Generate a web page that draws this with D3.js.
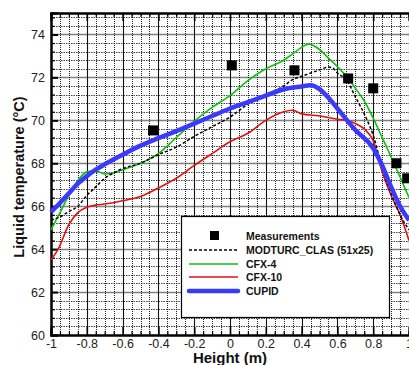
<!DOCTYPE html>
<html><head><meta charset="utf-8">
<script src="https://cdn.jsdelivr.net/npm/d3@7"></script>
<style>body{margin:0;background:#fff;}svg{display:block;}</style>
</head><body>
<svg id="c" width="409" height="365"></svg>
<script>
const measH = [-0.43, 0.01, 0.36, 0.66, 0.80, 0.93, 0.99];
const measT = [69.53, 72.56, 72.33, 71.95, 71.49, 68.0, 67.3];

const modH = [-1,-0.95,-0.9,-0.85,-0.8,-0.75,-0.7,-0.65,-0.6,-0.5,-0.4,-0.3,-0.2,-0.1,0,0.1,0.2,0.3,0.35,0.4,0.45,0.5,0.55,0.58,0.6,0.65,0.7,0.75,0.8,0.85,0.9,0.95,1.0];
const modT = [65.35,65.5,65.75,66.0,66.5,66.9,67.3,67.55,67.75,68.0,68.4,68.75,69.25,69.7,70.15,70.75,71.2,71.6,71.9,72.05,72.2,72.35,72.48,72.4,72.2,71.9,71.1,70.3,69.3,67.8,66.6,65.6,64.9];

const cfx4H = [-1,-0.95,-0.9,-0.85,-0.8,-0.75,-0.7,-0.65,-0.6,-0.5,-0.4,-0.3,-0.2,-0.1,0,0.1,0.2,0.3,0.35,0.4,0.44,0.5,0.55,0.6,0.65,0.7,0.75,0.8,0.85,0.9,0.95,1.0];
const cfx4T = [64.9,65.7,66.5,67.2,67.6,67.65,67.5,67.55,67.7,68.0,68.45,69.2,69.95,70.6,71.15,71.85,72.4,72.8,73.1,73.4,73.55,73.3,72.9,72.5,72.05,71.5,70.9,70.1,69.2,68.3,67.36,66.4];

const cfx10H = [-1,-0.96,-0.9,-0.85,-0.8,-0.75,-0.7,-0.6,-0.5,-0.4,-0.3,-0.2,-0.1,0,0.1,0.2,0.3,0.35,0.4,0.5,0.6,0.65,0.7,0.75,0.8,0.85,0.9,0.95,1.0];
const cfx10T = [63.5,64.0,65.15,65.7,65.95,66.05,66.1,66.25,66.45,66.85,67.3,67.9,68.45,69.0,69.4,70.0,70.4,70.47,70.3,70.2,70.05,70.0,69.85,69.6,69.05,67.6,66.5,65.6,64.4];

const cupidH = [-1,-0.95,-0.9,-0.85,-0.8,-0.75,-0.7,-0.6,-0.5,-0.4,-0.3,-0.2,-0.1,0,0.1,0.2,0.3,0.4,0.45,0.5,0.55,0.6,0.7,0.8,0.85,0.9,0.95,1.0];
const cupidT = [65.73,66.15,66.6,67.05,67.4,67.7,67.95,68.4,68.82,69.17,69.5,69.85,70.2,70.55,70.85,71.15,71.45,71.58,71.63,71.45,71.05,70.55,69.55,68.7,67.9,66.9,66.0,65.35];

const xTickVals = [-1,-0.8,-0.6,-0.4,-0.2,0,0.2,0.4,0.6,0.8,1];
const xTickLabels = ["-1","-0.8","-0.6","-0.4","-0.2","0","0.2","0.4","0.6","0.8","1"];
const yTickVals = [60,62,64,66,68,70,72,74];

const legendNames = ["Measurements","MODTURC_CLAS (51x25)","CFX-4","CFX-10","CUPID"];

const L = 51, R = 409, T = 13, B = 335;
const svg = d3.select("#c");
const x = d3.scaleLinear().domain([-1,1]).range([L,R]);
const y = d3.scaleLinear().domain([60,75]).range([B,T]);
const font = "'Liberation Sans', Arial, sans-serif";

// grid
const g = svg.append("g");
const minorX = d3.range(-1, 1.0001, 0.05).map(v=>+v.toFixed(2)).filter(v=>Math.abs(Math.round(v*5)-v*5)>1e-6);
const majorX = d3.range(-0.8, 1.0001, 0.2).map(v=>+v.toFixed(2));
const minorY = d3.range(60.4, 75.0001, 0.4).map(v=>+v.toFixed(1)).filter(v=>Math.abs(v/2-Math.round(v/2))>1e-6);
const majorY = [62,64,66,68,70,72,74];

g.selectAll(".hm").data(minorY).join("line")
  .attr("x1",L).attr("x2",R).attr("y1",d=>Math.round(y(d))+0.5).attr("y2",d=>Math.round(y(d))+0.5)
  .attr("stroke","#444").attr("stroke-width",1).attr("stroke-dasharray","1.5,1");
g.selectAll(".hM").data(majorY).join("line")
  .attr("x1",L).attr("x2",R).attr("y1",d=>Math.round(y(d))+0.5).attr("y2",d=>Math.round(y(d))+0.5)
  .attr("stroke","#808080").attr("stroke-width",1.6);
g.selectAll(".vm").data(minorX).join("line")
  .attr("y1",T).attr("y2",B).attr("x1",d=>Math.round(x(d))+0.5).attr("x2",d=>Math.round(x(d))+0.5)
  .attr("stroke","#222").attr("stroke-width",1).attr("stroke-dasharray","1,1");
g.selectAll(".vM").data(majorX).join("line")
  .attr("y1",T).attr("y2",B).attr("x1",d=>Math.round(x(d))+0.5).attr("x2",d=>Math.round(x(d))+0.5)
  .attr("stroke","#111").attr("stroke-width",1.1);

// axes with inward ticks
const axB = d3.axisBottom(x).tickValues(xTickVals).tickSize(-8).tickFormat((d,i)=>xTickLabels[i]).tickPadding(3);
const axBm = d3.axisBottom(x).tickValues(minorX).tickSize(-4).tickFormat("");
const axT = d3.axisTop(x).tickValues(xTickVals).tickSize(-8).tickFormat("");
const axTm = d3.axisTop(x).tickValues(minorX).tickSize(-4).tickFormat("");
const axL = d3.axisLeft(y).tickValues(yTickVals).tickSize(-7).tickPadding(10);
const axLm = d3.axisLeft(y).tickValues(minorY).tickSize(-4).tickFormat("");

function styleAxis(sel, sw){
  sel.select(".domain").attr("stroke","#000").attr("stroke-width",2);
  sel.selectAll(".tick line").attr("stroke","#000").attr("stroke-width",sw);
  sel.selectAll("text").attr("font-family",font).attr("font-size",12.5).attr("fill","#222");
}
styleAxis(svg.append("g").attr("transform",`translate(0,${B})`).call(axBm),1.2);
const xl = svg.append("g").attr("transform",`translate(0,${B})`).call(axB);
styleAxis(xl,1.6);
xl.selectAll(".tick text").attr("y",4.5);
styleAxis(svg.append("g").attr("transform",`translate(0,${T})`).call(axTm),1.2);
styleAxis(svg.append("g").attr("transform",`translate(0,${T})`).call(axT),1.6);
styleAxis(svg.append("g").attr("transform",`translate(${L},0)`).call(axLm),1.2);
const yl = svg.append("g").attr("transform",`translate(${L},0)`).call(axL);
styleAxis(yl,2);
yl.selectAll(".tick text").attr("x",-6);

// curves
const line = d3.line().x(d=>x(d[0])).y(d=>y(d[1])).curve(d3.curveMonotoneX);
const zip = (a,b)=>a.map((v,i)=>[v,b[i]]);
const plot = svg.append("g");
plot.append("path").attr("d",line(zip(cfx10H,cfx10T))).attr("fill","none").attr("stroke","#e01010").attr("stroke-width",1.6);
plot.append("path").attr("d",line(zip(cfx4H,cfx4T))).attr("fill","none").attr("stroke","#10c010").attr("stroke-width",1.6);
plot.append("path").attr("d",line(zip(modH,modT))).attr("fill","none").attr("stroke","#000").attr("stroke-width",1.5).attr("stroke-dasharray","3,2");
plot.append("path").attr("d",line(zip(cupidH,cupidT))).attr("fill","none").attr("stroke","#3a3aff").attr("stroke-width",4.5).attr("stroke-linejoin","round");

plot.selectAll(".m").data(zip(measH,measT)).join("rect")
  .attr("x",d=>x(d[0])-5).attr("y",d=>y(d[1])-5).attr("width",10).attr("height",10).attr("fill","#000");

// legend
const lg = svg.append("g");
lg.append("rect").attr("x",181.5).attr("y",216.5).attr("width",208).attr("height",101).attr("fill","#fff").attr("stroke","#000").attr("stroke-width",1.2);
const rowsY = [236,250,264,277,291];
lg.append("rect").attr("x",210).attr("y",rowsY[0]-5).attr("width",9).attr("height",9).attr("fill","#000");
const styles = [null,{c:"#000",w:1.5,d:"3,2"},{c:"#10c010",w:1.6},{c:"#e01010",w:1.6},{c:"#3a3aff",w:4.5}];
styles.forEach((s,i)=>{ if(!s) return;
  lg.append("line").attr("x1",189).attr("x2",238).attr("y1",rowsY[i]).attr("y2",rowsY[i])
    .attr("stroke",s.c).attr("stroke-width",s.w).attr("stroke-dasharray",s.d||null).attr("stroke-linecap",s.w>3?"round":"butt");
});
legendNames.forEach((n,i)=>{
  lg.append("text").attr("x",246).attr("y",rowsY[i]+4).text(n)
    .attr("font-family",font).attr("font-weight","bold").attr("font-size",10.5).attr("fill","#111");
});

// titles
svg.append("text").attr("x",230).attr("y",363).attr("text-anchor","middle").text("Height (m)")
  .attr("font-family",font).attr("font-weight","bold").attr("font-size",15).attr("fill","#111");
svg.append("text").attr("transform","translate(24,177) rotate(-90)").attr("text-anchor","middle").text("Liquid temperature (°C)")
  .attr("font-family",font).attr("font-weight","bold").attr("font-size",14.5).attr("fill","#111");
</script>
</body></html>
